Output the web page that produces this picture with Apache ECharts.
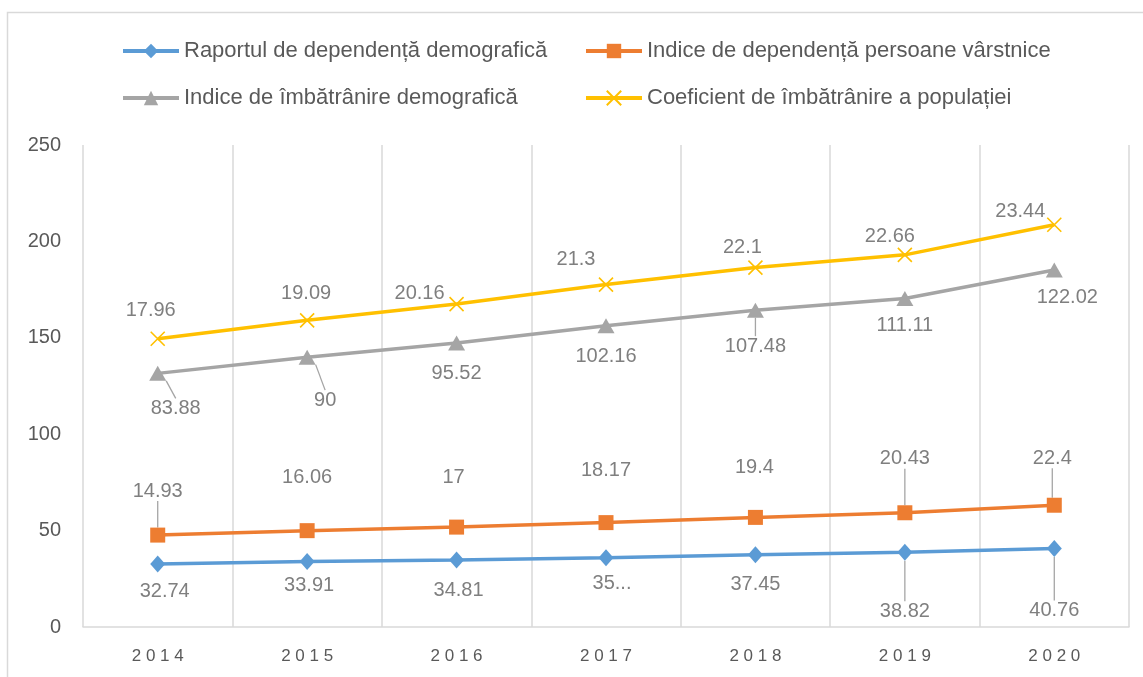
<!DOCTYPE html>
<html>
<head>
<meta charset="utf-8">
<script src="https://cdn.jsdelivr.net/npm/echarts@6/dist/echarts.min.js"></script>
<style>
html,body{margin:0;padding:0;background:#fff;}
#chart{width:1143px;height:677px;}
</style>
</head>
<body>
<div id="chart"></div>
<script>
// ---- data ----
const years = ['2014','2015','2016','2017','2018','2019','2020'];
const seriesNames = [
  'Raportul de dependență demografică',
  'Indice de dependență persoane vârstnice',
  'Indice de îmbătrânire demografică',
  'Coeficient de îmbătrânire a populației'
];
const raportDependenta = [32.74, 33.91, 34.81, 35.97, 37.45, 38.82, 40.76];
const indiceDependentaVarstnici = [14.93, 16.06, 17, 18.17, 19.4, 20.43, 22.4];
const indiceImbatranire = [83.88, 90, 95.52, 102.16, 107.48, 111.11, 122.02];
const coeficientImbatranire = [17.96, 19.09, 20.16, 21.3, 22.1, 22.66, 23.44];
// label text overrides (as shown in the reference)
const labelTextOverride = [{}, {}, {}, {}];
labelTextOverride[0][3] = '35...';
const yTicks = [0, 50, 100, 150, 200, 250];

// ---- layout (positions kept separate from data) ----
const labelOffsets = [
  [[7,28],[2,24],[2,31],[6,26],[0,30],[0,59],[0,62]],
  [[0,-44],[0,-53],[-3,-50],[0,-52],[-1,-50],[0,-54],[-2,-47]],
  [[18,35],[18,43],[0,31],[0,31],[0,36],[0,27],[13,28]],
  [[-7,-28],[-1,-27],[-37,-11],[-30,-25],[-13,-20],[-15,-18],[-34,-13]]
];
const leaderLines = [
  [0,0,0,0,0,1,1],
  [1,0,0,0,0,1,1],
  [1,1,0,0,1,0,0],
  [0,0,0,0,0,0,0]
];
const colors = ['#5B9BD5', '#ED7D31', '#A5A5A5', '#FFC000'];
const symbols = ['diamond', 'rect', 'triangle', 'path://M0,0L10,10M10,0L0,10'];
const symbolSizes = [[15,17], 15, [17,15], 14];
const allValues = [raportDependenta, indiceDependentaVarstnici, indiceImbatranire, coeficientImbatranire];

const labelColor = '#7F7F7F';
const fontFamily = '"Liberation Sans", Arial, sans-serif';

function buildData(si) {
  return allValues[si].map((v, i) => {
    const item = { value: v };
    if (labelTextOverride[si][i] !== undefined) {
      const t = labelTextOverride[si][i];
      item.label = { formatter: () => t };
    }
    if (leaderLines[si][i]) {
      item.labelLine = { show: true, lineStyle: { color: '#A5A5A5', width: 1.3 } };
    }
    return item;
  });
}

const series = seriesNames.map((name, si) => ({
  name: name,
  type: 'line',
  stack: 'total',
  data: buildData(si),
  symbol: symbols[si],
  symbolSize: symbolSizes[si],
  showAllSymbol: true,
  z: 2 + si,
  lineStyle: { color: colors[si], width: 3.5 },
  itemStyle: si === 3
    ? { color: colors[si], borderColor: colors[si], borderWidth: 1.6 }
    : { color: colors[si], borderWidth: 0 },
  label: {
    show: true,
    position: 'inside',
    color: labelColor,
    fontSize: 20,
    fontFamily: fontFamily
  },
  labelLine: { show: false, lineStyle: { color: '#A5A5A5', width: 1.3 } },
  labelLayout: function (p) {
    const o = labelOffsets[p.seriesIndex][p.dataIndex];
    return { dx: o[0], dy: o[1] };
  },
  emphasis: { disabled: true },
  animation: false
}));

const legendPos = [[121, 40], [584, 40], [121, 87], [584, 87]];
const legends = seriesNames.map((n, i) => ({
  data: [n],
  left: legendPos[i][0],
  top: legendPos[i][1],
  padding: 0,
  itemWidth: 56,
  itemHeight: 18,
  lineStyle: { width: 4 },
  textStyle: { color: '#595959', fontSize: 22, fontFamily: fontFamily },
  selectedMode: false
}));

const chart = echarts.init(document.getElementById('chart'), null, { renderer: 'canvas' });
chart.setOption({
  backgroundColor: '#fff',
  animation: false,
  color: colors,
  legend: legends,
  graphic: [{
    type: 'rect',
    shape: { x: 7.5, y: 12.5, width: 1160, height: 700 },
    style: { fill: 'none', stroke: '#D9D9D9', lineWidth: 1.5 },
    silent: true, z: -10
  }],
  grid: { left: 83, right: 14, top: 145, bottom: 50 },
  xAxis: {
    type: 'category',
    data: years,
    boundaryGap: true,
    axisLine: { show: true, lineStyle: { color: '#D9D9D9', width: 1.5 } },
    axisTick: { show: false },
    splitLine: { show: true, lineStyle: { color: '#D9D9D9', width: 1.5 } },
    axisLabel: {
      color: '#595959', fontSize: 17, fontFamily: fontFamily, margin: 21,
      formatter: v => v.split('').join(' ')
    }
  },
  yAxis: {
    type: 'value',
    min: yTicks[0],
    max: yTicks[yTicks.length - 1],
    interval: yTicks[1] - yTicks[0],
    axisLine: { show: false },
    axisTick: { show: false },
    splitLine: { show: false },
    axisLabel: { color: '#595959', fontSize: 20, fontFamily: fontFamily, margin: 22 }
  },
  series: series
});
</script>
</body>
</html>
